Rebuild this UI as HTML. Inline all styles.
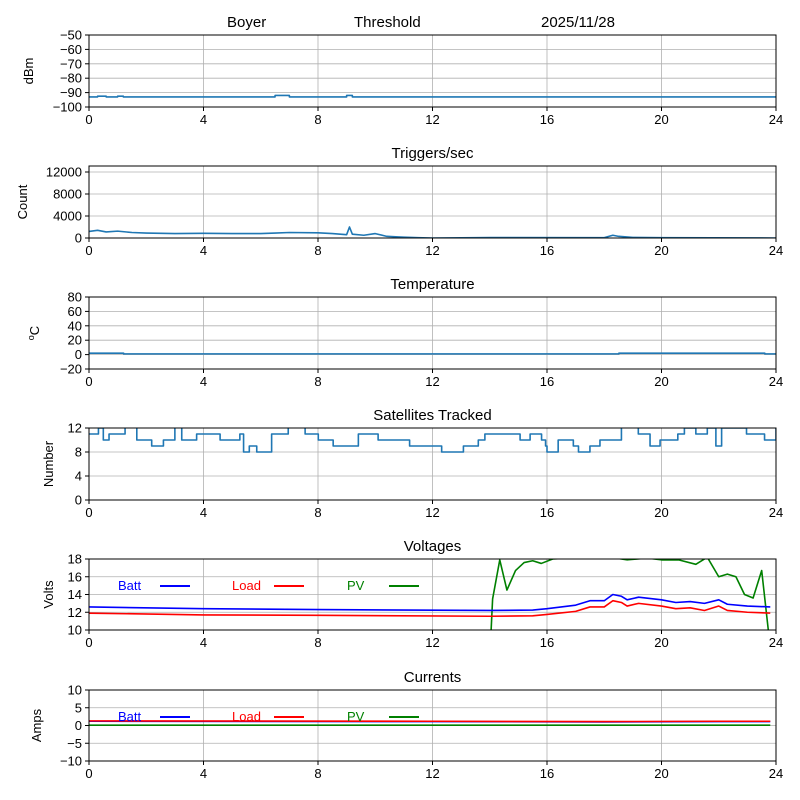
<!DOCTYPE html>
<html><head><meta charset="utf-8"><style>
body{margin:0;background:#fff}
svg{display:block;font-family:"Liberation Sans","DejaVu Sans",sans-serif}
</style></head><body>
<svg id="c" width="800" height="800"></svg>
<script>
// ---- data ----
const hourTicks=[0,4,8,12,16,20,24];
const rssiHours=[0,0.3,0.6,1.0,1.2,6.5,7.0,9.0,9.2,24];
const rssiVals=[-93,-92.5,-93,-92.5,-93,-92,-93,-92,-93,-93];
const trigHours=[0,0.3,0.6,1.0,1.5,2,3,4,5,6,6.5,7,8,8.5,9.0,9.1,9.2,9.6,10,10.4,10.8,11,11.5,12,14,18,18.3,18.5,19,20,24];
const trigVals=[1200,1400,1100,1250,1000,900,800,850,800,800,900,1000,950,800,600,2000,700,500,800,300,200,150,50,0,80,60,500,300,100,50,0];
const tempHours=[0,1.2,1.21,18.5,18.51,23.6,23.61,24];
const tempVals=[2,2,1,1,2,2,1,1];
const satHours=[0,0.33,0.5,0.7,1.26,1.67,2.19,2.6,3.0,3.24,3.76,4.11,4.58,5.27,5.4,5.6,5.86,6.38,6.96,7.55,8.01,8.53,9.41,10.1,11.2,12.32,13.08,13.6,13.83,14.3,15.06,15.41,15.81,15.95,16.0,16.39,16.92,17.1,17.5,17.85,18.6,19.19,19.6,19.95,20.57,20.8,21.2,21.6,21.9,22.1,22.97,23.6,24];
const satVals=[11,12,10,11,13,10,9,10,13,10,11,11,10,11,8,9,8,11,13,11,10,9,11,10,9,8,9,10,11,11,10,11,10,9,8,10,9,8,9,10,13,11,9,10,11,12,11,12,9,12,11,10,12];
const voltHours=[0,4,8,14,15.5,16,17,17.5,18,18.3,18.6,18.8,19.2,20,20.5,21,21.5,22,22.3,23,23.8];
const battV=[12.6,12.4,12.3,12.2,12.25,12.4,12.8,13.3,13.3,14.0,13.8,13.4,13.7,13.4,13.1,13.2,13.0,13.4,12.9,12.7,12.6];
const loadV=[11.9,11.7,11.65,11.55,11.6,11.75,12.1,12.6,12.6,13.3,13.1,12.7,13.0,12.7,12.4,12.5,12.2,12.7,12.2,12.0,11.9];
const pvHours=[0,13.9,14.1,14.35,14.6,14.9,15.2,15.5,15.8,16.2,18.0,18.8,19.5,20.0,20.6,21.2,21.6,22.0,22.3,22.6,22.9,23.2,23.5,23.8,24];
const pvV=[0,0,13.5,17.9,14.5,16.7,17.6,17.8,17.5,18.0,18.3,17.9,18.1,17.9,17.9,17.4,18.2,16.0,16.3,16.0,14.0,13.6,16.7,8,0];
const curHours=[0,12,18,22,23.8];
const battI=[1.2,1.1,1.0,1.1,1.1];
const loadI=[1.3,1.2,1.1,1.2,1.2];
const pvI=[0.1,0.1,0.1,0.1,0.1];

const svg=document.getElementById('c');
const NS='http://www.w3.org/2000/svg';
function mk(t,a,p){const e=document.createElementNS(NS,t);for(const k in a)e.setAttribute(k,a[k]);(p||svg).appendChild(e);return e;}
const X0=89,X1=776;
const xs=h=>X0+h*(X1-X0)/24;
const fmt=v=>String(v).replace('-','\u2212');

function panel(name,top,bot,ymin,ymax,yticks,ylabel,title,ylabelX){
  const g=mk('g',{});
  
  
  const ys=v=>bot-(v-ymin)*(bot-top)/(ymax-ymin);
  const cid='clip-'+name;
  const cp=mk('clipPath',{id:cid},g);mk('rect',{x:X0,y:top,width:X1-X0,height:bot-top},cp);
  hourTicks.forEach(h=>{const l=mk('line',{x1:xs(h),x2:xs(h),y1:top,y2:bot,stroke:'#b0b0b0','stroke-width':0.8},g);});
  yticks.forEach(v=>{const l=mk('line',{x1:X0,x2:X1,y1:ys(v),y2:ys(v),stroke:'#b0b0b0','stroke-width':0.8},g);});
  const data=mk('g',{'clip-path':'url(#'+cid+')'},g);
  mk('rect',{x:X0,y:top,width:X1-X0,height:bot-top,fill:'none',stroke:'#000','stroke-width':1},g);
  hourTicks.forEach(h=>{mk('line',{x1:xs(h),x2:xs(h),y1:bot,y2:bot+4,stroke:'#000'},g);
    const t=mk('text',{x:xs(h),y:bot+17,'text-anchor':'middle','font-size':13},g);t.textContent=h;
    });
  yticks.forEach(v=>{mk('line',{x1:X0-4,x2:X0,y1:ys(v),y2:ys(v),stroke:'#000'},g);
    const t=mk('text',{x:X0-7,y:ys(v)+4.5,'text-anchor':'end','font-size':13},g);t.textContent=fmt(v);
    });
  const yl=mk('text',{x:0,y:0,transform:`translate(${ylabelX},${(top+bot)/2}) rotate(-90)`,'text-anchor':'middle','font-size':13},g);
  yl.innerHTML=ylabel;
  if(title){const tt=mk('text',{x:(X0+X1)/2,y:top-8,'text-anchor':'middle','font-size':15},g);tt.textContent=title;
    }
  return {g:data,ys};
}
function line(p,hs,vs,color,name,step){
  let d='';
  hs.forEach((h,i)=>{const x=xs(h),y=p.ys(vs[i]);
    if(i===0)d='M'+x+','+y;else if(step)d+=' H'+x+' V'+y;else d+=' L'+x+','+y;});
  const e=mk('path',{d,fill:'none',stroke:color,'stroke-width':1.6,'stroke-linejoin':'round'},p.g);
  
}
function legend(top){
  const items=[['Batt','#0000ff',118,160],['Load','#ff0000',232,274],['PV','#008000',347,389]];
  items.forEach(([n,c,tx,lx])=>{
    const t=mk('text',{x:tx,y:top+31,'font-size':13,fill:c});t.textContent=n;
    
    mk('line',{x1:lx,x2:lx+30,y1:top+27,y2:top+27,stroke:c,'stroke-width':2});
  });
}
const hd=[['Boyer',227],['Threshold',354],['2025/11/28',541]];
hd.forEach(([s,x])=>{const t=mk('text',{x,y:27,'font-size':15});t.textContent=s;
  });

const p1=panel('rssi',35,107,-100,-50,[-100,-90,-80,-70,-60,-50],'dBm',null,33);
line(p1,rssiHours,rssiVals,'#1f77b4','rssi-line',true);
const p2=panel('triggers',166,238,0,13090,[0,4000,8000,12000],'Count','Triggers/sec',27);
line(p2,trigHours,trigVals,'#1f77b4','triggers-line',false);
const p3=panel('temperature',297,369,-20,80,[-20,0,20,40,60,80],'<tspan font-size="9" dy="-5">o</tspan><tspan dy="5">C</tspan>','Temperature',39);
line(p3,tempHours,tempVals,'#1f77b4','temperature-line',true);
const p4=panel('satellites',428,500,0,12,[0,4,8,12],'Number','Satellites Tracked',53);
line(p4,satHours,satVals,'#1f77b4','satellites-line',true);
const p5=panel('voltages',559,630,10,18,[10,12,14,16,18],'Volts','Voltages',53);
line(p5,pvHours,pvV,'#008000','pv-voltage-line',false);
line(p5,voltHours,battV,'#0000ff','batt-voltage-line',false);
line(p5,voltHours,loadV,'#ff0000','load-voltage-line',false);
legend(559);
const p6=panel('currents',690,761,-10,10,[-10,-5,0,5,10],'Amps','Currents',41);
line(p6,curHours,pvI,'#008000','pv-current-line',false);
line(p6,curHours,battI,'#0000ff','batt-current-line',false);
line(p6,curHours,loadI,'#ff0000','load-current-line',false);
legend(690);
</script>
</body></html>
